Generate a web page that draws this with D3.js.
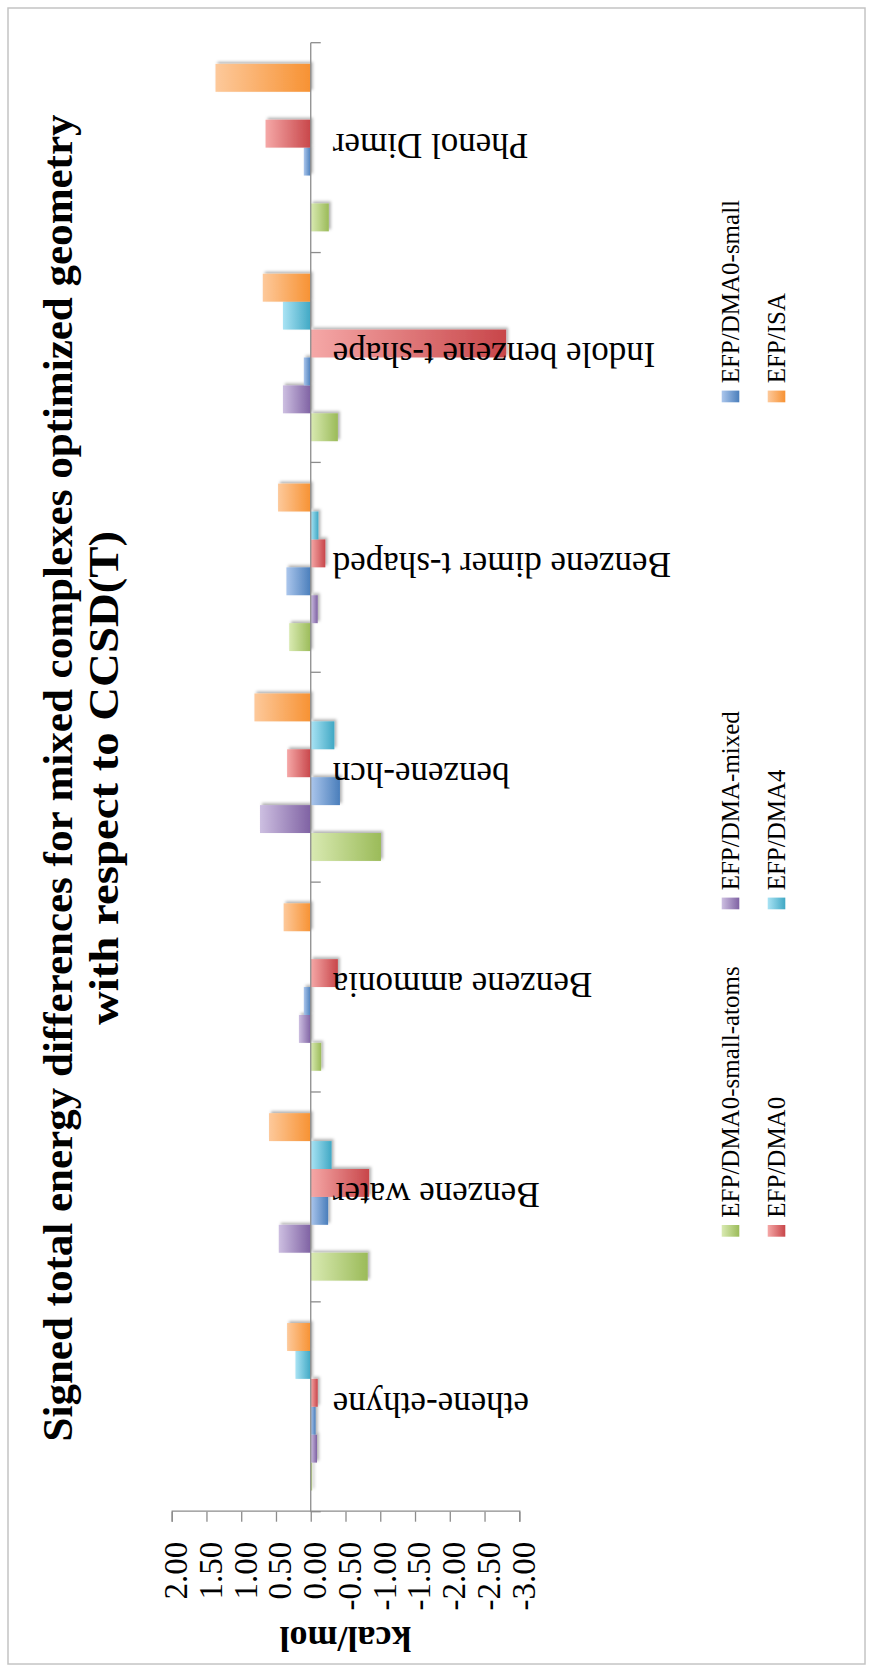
<!DOCTYPE html>
<html>
<head>
<meta charset="utf-8">
<script src="https://cdn.jsdelivr.net/npm/d3@7"></script>
<style>
  html, body { margin: 0; padding: 0; background: #fff; }
  svg { display: block; }
  text { font-family: "Liberation Serif", "Times New Roman", serif; fill: #000; }
</style>
</head>
<body>
<svg id="chart" width="873" height="1671"></svg>
<script>
// ---- data ----
const categories = [
  "ethene-ethyne", "Benzene water", "Benzene ammonia", "benzene-hcn",
  "Benzene dimer t-shaped", "Indole benzene t-shape", "Phenol Dimer"
];
const seriesNames = [
  "EFP/DMA0-small-atoms", "EFP/DMA-mixed", "EFP/DMA0-small",
  "EFP/DMA0", "EFP/DMA4", "EFP/ISA"
];
const dma0SmallAtoms = [-0.02, -0.82, -0.15, -1.01, 0.31, -0.39, -0.26];
const dmaMixed       = [-0.09,  0.46,  0.17,  0.73, -0.10,  0.40,  0.00];
const dma0Small      = [-0.07, -0.25,  0.10, -0.42,  0.35,  0.10,  0.10];
const dma0           = [-0.10, -0.84, -0.39,  0.34, -0.21, -2.81,  0.65];
const dma4           = [ 0.22, -0.30,  0.00, -0.34, -0.11,  0.40,  0.00];
const isa            = [ 0.34,  0.60,  0.39,  0.81,  0.47,  0.69,  1.37];
const tickValues = [2, 1.5, 1, 0.5, 0, -0.5, -1, -1.5, -2, -2.5, -3];
const titleLines = [
  "Signed total energy differences for mixed complexes optimized geometry",
  "with respect to CCSD(T)"
];
const axisTitle = "kcal/mol";

const seriesValues = [dma0SmallAtoms, dmaMixed, dma0Small, dma0, dma4, isa];

// bar fills: light end / dark end of each gradient
const palette = [
  ["#d9eab2", "#9bbb59"],
  ["#cdbfe1", "#7f62a3"],
  ["#abc6ec", "#4a7ebb"],
  ["#f5a8a7", "#c8464a"],
  ["#a9e3f4", "#40a8c4"],
  ["#fdc99b", "#f79233"]
];

// ---- frame: the chart is laid out landscape and turned a quarter turn ----
const svg = d3.select("#chart");
const FW = 1671, FH = 873;          // landscape frame size
const defs = svg.append("defs");

palette.forEach((c, i) => {
  const lg = defs.append("linearGradient")
    .attr("id", "grad" + i)
    .attr("x1", 0).attr("y1", 0).attr("x2", 0).attr("y2", 1);
  lg.append("stop").attr("offset", "0%").attr("stop-color", c[0]);
  lg.append("stop").attr("offset", "100%").attr("stop-color", c[1]);
});

const shadow = defs.append("filter").attr("id", "barShadow")
  .attr("x", "-20%").attr("y", "-20%").attr("width", "140%").attr("height", "140%");
shadow.append("feDropShadow")
  .attr("dx", 2).attr("dy", 2).attr("stdDeviation", 1.6)
  .attr("flood-color", "#000").attr("flood-opacity", 0.3);

const g = svg.append("g").attr("transform", `translate(0,${FW}) rotate(-90)`);

// outer border
g.append("rect")
  .attr("x", 7).attr("y", 8).attr("width", 1656).attr("height", 857)
  .attr("fill", "#fff").attr("stroke", "#c4c4c4").attr("stroke-width", 1.5);

const plot = { left: 159.3, right: 1628.3, top: 171.7, bottom: 519.3 };

const x0 = d3.scaleBand().domain(categories).range([plot.left, plot.right]);
const inset = x0.bandwidth() * 0.101;
const x1 = d3.scaleBand().domain(d3.range(seriesNames.length))
  .range([inset, x0.bandwidth() - inset]);
const y = d3.scaleLinear().domain([2, -3]).range([plot.top, plot.bottom]);

const axisColor = "#8c8c8c";

// bars
seriesNames.forEach((name, si) => {
  const data = categories.map((c, ci) => ({ c, v: seriesValues[si][ci] }))
    .filter(d => d.v !== 0);
  g.append("g").attr("filter", "url(#barShadow)")
    .selectAll("rect").data(data).join("rect")
    .attr("x", d => x0(d.c) + x1(si))
    .attr("width", x1.bandwidth())
    .attr("y", d => Math.min(y(d.v), y(0)))
    .attr("height", d => Math.abs(y(d.v) - y(0)))
    .attr("fill", `url(#grad${si})`);
});

// value axis
const fmt = d3.formatLocale({ decimal: ".", thousands: ",", grouping: [3], currency: ["", ""], minus: "-" }).format(".2f");
const yAxis = g.append("g")
  .attr("transform", `translate(${plot.left},0)`)
  .call(d3.axisLeft(y).tickValues(tickValues).tickFormat(fmt).tickSize(10).tickPadding(20));
yAxis.select(".domain").attr("stroke", axisColor).attr("stroke-width", 1.3);
yAxis.selectAll(".tick line").attr("stroke", axisColor).attr("stroke-width", 1.3);
yAxis.selectAll(".tick text")
  .attr("font-family", "Liberation Serif, serif")
  .attr("font-size", 33).attr("dy", "0.45em").attr("fill", "#000");

// category axis along the zero line
const y0 = y(0);
g.append("line")
  .attr("x1", plot.left).attr("x2", plot.right)
  .attr("y1", y0).attr("y2", y0)
  .attr("stroke", axisColor).attr("stroke-width", 1.3);
const bounds = categories.map(c => x0(c)).concat([plot.right]);
g.selectAll(".ctick").data(bounds).join("line")
  .attr("class", "ctick")
  .attr("x1", d => d).attr("x2", d => d)
  .attr("y1", y0).attr("y2", y0 + 10)
  .attr("stroke", axisColor).attr("stroke-width", 1.3);

// category labels
g.selectAll(".clabel").data(categories).join("text")
  .attr("class", "clabel")
  .attr("transform", d => `translate(${x0(d) + x0.bandwidth() / 2},${y0 + 22}) rotate(-90)`)
  .attr("text-anchor", "end")
  .attr("dy", 14)
  .attr("font-size", 35)
  .text(d => d);

// value axis title
g.append("text")
  .attr("transform", `translate(44,${(plot.top + plot.bottom) / 2}) rotate(-90)`)
  .attr("text-anchor", "middle")
  .attr("font-size", 36).attr("font-weight", "bold")
  .text(axisTitle);

// chart title, two lines centred over the chart
const titleWidths = [1327, 494];
g.selectAll(".title").data(titleLines).join("text")
  .attr("class", "title")
  .attr("x", (d, i) => 893 - titleWidths[i] / 2)
  .attr("y", (d, i) => 72 + i * 46)
  .attr("textLength", (d, i) => titleWidths[i])
  .attr("lengthAdjust", "spacingAndGlyphs")
  .attr("font-size", 43).attr("font-weight", "bold")
  .text(d => d);

// legend: two rows of three
const legendCols = [434.3, 761.7, 1268.7];
const legendRows = [721.7, 767.7];
const legend = g.selectAll(".legend").data(seriesNames).join("g")
  .attr("class", "legend")
  .attr("transform", (d, i) => `translate(${legendCols[i % 3]},${legendRows[Math.floor(i / 3)]})`);
legend.append("rect")
  .attr("width", 11.7).attr("height", 17.6)
  .attr("fill", (d, i) => `url(#grad${i})`);
legend.append("text")
  .attr("x", 19).attr("y", 17.5)
  .attr("font-size", 25)
  .text(d => d);
</script>
</body>
</html>
